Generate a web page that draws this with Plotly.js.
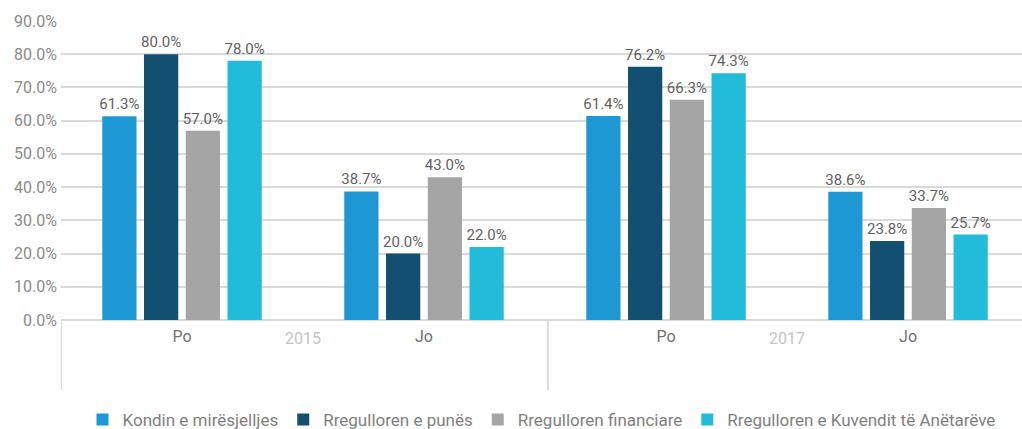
<!DOCTYPE html>
<html>
<head>
<meta charset="utf-8">
<script src="https://cdn.plot.ly/plotly-3.0.1.min.js"></script>
<style>html,body{margin:0;padding:0;background:#fff;}#chart{width:1022px;height:429px;}</style>
</head>
<body>
<div id="chart"></div>
<script>
const categories = ["Po", "Jo", "Po", "Jo"];
const years = ["2015", "2017"];
const seriesNames = ["Kondin e mirësjelljes", "Rregulloren e punës", "Rregulloren financiare", "Rregulloren e Kuvendit të Anëtarëve"];
const kondin = [61.3, 38.7, 61.4, 38.6];
const punes = [80.0, 20.0, 76.2, 23.8];
const financiare = [57.0, 43.0, 66.3, 33.7];
const kuvendit = [78.0, 22.0, 74.3, 25.7];
const colors = ["#1E98D4", "#124F70", "#A5A5A5", "#22BBD9"];
const yTicks = [0, 10, 20, 30, 40, 50, 60, 70, 80, 90];

const xPos = categories.map((c, i) => i);
const allSeries = [kondin, punes, financiare, kuvendit];
const traces = allSeries.map((vals, k) => ({
  type: 'bar',
  name: seriesNames[k],
  x: xPos,
  y: vals,
  marker: {color: colors[k]},
  text: vals.map(v => v.toFixed(1) + '%'),
  textposition: 'outside',
  constraintext: 'none',
  cliponaxis: false,
  textfont: {family: 'Roboto, sans-serif', size: 15, color: '#5f5f5f'},
  hoverinfo: 'skip'
}));

const layout = {
  width: 1022, height: 429,
  margin: {l: 61, r: 0, t: 21, b: 109, autoexpand: false},
  paper_bgcolor: '#fff', plot_bgcolor: '#fff',
  font: {family: 'Roboto, sans-serif', color: '#7f7f7f', size: 14},
  barmode: 'group', bargap: 0.31, bargroupgap: 0.18,
  showlegend: true,
  legend: {orientation: 'h', x: 0.5, xanchor: 'center', yref: 'container', y: 0.063, yanchor: 'top',
           font: {size: 17, color: '#7f7f7f'}, traceorder: 'normal', itemwidth: 30},
  xaxis: {range: [-0.5, 3.471], tickmode: 'array', tickvals: xPos, ticktext: categories,
          showgrid: false, zeroline: false, showline: false, ticks: '', fixedrange: true,
          ticklabelstandoff: 5, tickfont: {size: 16, color: '#6f6f6f'}},
  yaxis: {range: [0, 90], tickmode: 'array', tickvals: yTicks,
          ticktext: yTicks.map(v => v.toFixed(1) + '%'),
          showgrid: true, gridcolor: '#d9d9d9', gridwidth: 2,
          zeroline: true, zerolinecolor: '#d9d9d9', zerolinewidth: 2,
          showline: false, ticks: '', ticklabelstandoff: 3, tickfont: {size: 16, color: '#8a8a8a'}},
  shapes: [-0.5, 1.512].map(xv => ({type: 'line', xref: 'x', yref: 'paper', x0: xv, x1: xv,
          y0: 0, y1: -0.234, line: {color: '#d9d9d9', width: 2}})),
  annotations: years.map((yr, i) => ({text: yr, xref: 'x', yref: 'paper', x: 0.5 + 2 * i, y: 0,
          yanchor: 'top', yshift: -7, showarrow: false, font: {size: 16, color: '#c4c4c4'}}))
};
Plotly.newPlot('chart', traces, layout, {displayModeBar: false, staticPlot: true});
</script>
</body>
</html>
